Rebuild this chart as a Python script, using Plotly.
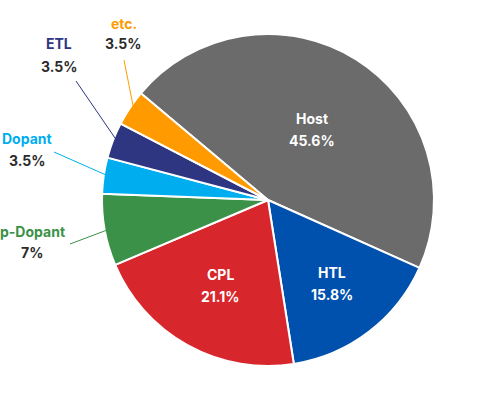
import math
import plotly.graph_objects as go

labels = ["Host", "HTL", "CPL", "p-Dopant", "Dopant", "ETL", "etc."]
values = [45.6, 15.8, 21.1, 7.0, 3.5, 3.5, 3.5]
colors = ["#6b6b6b", "#0051ad", "#d8272c", "#3a9147", "#00aeef", "#2e3581", "#ff9b00"]
pct_text = ["45.6%", "15.8%", "21.1%", "7%", "3.5%", "3.5%", "3.5%"]

W, H = 490, 400
CX, CY, R = 268, 200, 166
ROT = -50  # degrees, start of first slice (clockwise from 12 o'clock)

FONT = "Inter, Noto Sans, sans-serif"

def px(x):
    return x / W

def py(y):
    return 1 - y / H

fig = go.Figure()
fig.add_trace(go.Pie(
    labels=labels, values=values, sort=False, direction="clockwise",
    rotation=ROT,
    marker=dict(colors=colors, line=dict(color="white", width=2)),
    textinfo="none", hoverinfo="label+percent", showlegend=False,
    domain=dict(x=[px(CX - R), px(CX + R)], y=[py(CY + R), py(CY - R)]),
))

# slice mid angles from data
total = sum(values)
mids = []
acc = 0.0
for v in values:
    a0 = ROT + 360 * acc / total
    a1 = ROT + 360 * (acc + v) / total
    mids.append((a0 + a1) / 2)
    acc += v

def polar(angle_deg, r):
    a = math.radians(angle_deg)
    return CX + r * math.sin(a), CY - r * math.cos(a)

annotations = []
shapes = []

# inside labels: (index, radius fraction)
inside = [(0, 0.50), (1, 0.63), (2, 0.59)]
for i, rf in inside:
    x, y = polar(mids[i], rf * R)
    annotations.append(dict(x=px(x), y=py(y - 11), xref="paper", yref="paper",
                            text="<b>%s</b>" % labels[i], showarrow=False,
                            font=dict(family=FONT, size=14, color="white"),
                            xanchor="center", yanchor="middle"))
    annotations.append(dict(x=px(x), y=py(y + 11), xref="paper", yref="paper",
                            text="<b>%s</b>" % pct_text[i], showarrow=False,
                            font=dict(family=FONT, size=14, color="white"),
                            xanchor="center", yanchor="middle"))

# outside labels: index, label center x, name y, value y, leader start (x, y)
outside = [
    (6, 124, 23, 44, (124, 60)),
    (5, 59, 44, 66, (76, 81)),
    (4, 27, 138, 160, (54, 152)),
    (3, 32, 232, 253, (70, 244)),
]
for i, lx, ny, vy, (sx, sy) in outside:
    annotations.append(dict(x=px(lx), y=py(ny), xref="paper", yref="paper",
                            text="<b>%s</b>" % labels[i], showarrow=False,
                            font=dict(family=FONT, size=14, color=colors[i]),
                            xanchor="center", yanchor="middle"))
    annotations.append(dict(x=px(lx), y=py(vy), xref="paper", yref="paper",
                            text="<b>%s</b>" % pct_text[i], showarrow=False,
                            font=dict(family=FONT, size=14, color="#2b2b2b"),
                            xanchor="center", yanchor="middle"))
    ex, ey = polar(mids[i], R * 0.97)
    shapes.append(dict(type="line", xref="paper", yref="paper",
                       x0=px(sx), y0=py(sy), x1=px(ex), y1=py(ey),
                       line=dict(color=colors[i], width=1)))

fig.update_layout(
    width=W, height=H,
    margin=dict(l=0, r=0, t=0, b=0),
    paper_bgcolor="white", plot_bgcolor="white",
    annotations=annotations, shapes=shapes,
)

fig.write_html("out.html", config={"displayModeBar": False},
               post_script="document.body.style.margin='0';")
